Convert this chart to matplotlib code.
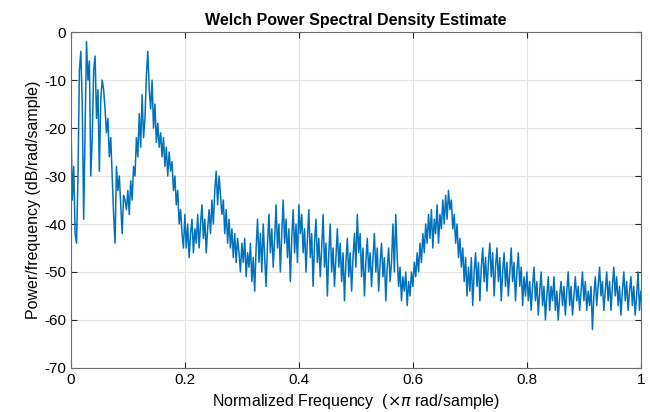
#Welch PSD estimate
import matplotlib.pyplot as plt
import numpy as np

plt.rcParams['font.family'] = ['Liberation Sans', 'DejaVu Sans']
plt.rcParams['axes.unicode_minus'] = False

# PSD in dB/rad/sample, 0 .. 0.2 (x pi rad/sample)
psd_low = [-18, -35, -28, -42, -44, -30, -8, -4, -15, -39,
           -20, -2, -10, -6, -30, -22, -8, -5, -18, -12,
           -29, -14, -10, -12, -16, -21, -18, -26, -22, -30,
           -38, -44, -28, -33, -30, -36, -42, -34, -35, -37,
           -33, -38, -31, -35, -28, -30, -22, -26, -17, -24,
           -13, -22, -18, -9, -4, -12, -16, -10, -20, -15,
           -23, -19, -24, -21, -26, -22, -28, -24, -30, -25,
           -29, -27, -33, -30, -36, -33, -40, -37, -42, -45]

# 0.2 .. 0.6
psd_mid = [-38, -45, -40, -47, -42, -39, -46, -41, -44, -38,
           -45, -40, -36, -43, -39, -46, -41, -37, -42, -35,
           -40, -33, -29, -36, -30, -34, -38, -35, -42, -37,
           -44, -39, -45, -41, -47, -42, -48, -43, -46, -50,
           -44, -48, -43, -51, -46, -49, -44, -52, -47, -54,
           -45, -39, -48, -42, -50, -40, -47, -53, -44, -38,
           -46, -41, -49, -43, -36, -45, -40, -50, -42, -35,
           -44, -39, -47, -41, -52, -43, -37, -46, -40, -48,
           -36, -42, -38, -46, -41, -50, -43, -37, -47, -42,
           -53, -44, -39, -48, -43, -51, -45, -38, -49, -44,
           -55, -46, -40, -50, -45, -53, -47, -41, -49, -44,
           -52, -46, -56, -48, -43, -51, -46, -54, -47, -42,
           -49, -38, -46, -42, -51, -45, -55, -48, -43, -50,
           -46, -53, -47, -42, -50, -45, -54, -48, -44, -51,
           -47, -56, -49, -45, -52, -48, -40, -50, -38, -47,
           -53, -49, -56, -51, -54, -50, -57, -52, -55, -50]

# 0.6 .. 1.0
psd_high = [-53, -48, -51, -46, -50, -44, -48, -42, -46, -40,
            -44, -38, -43, -37, -45, -39, -42, -36, -44, -38,
            -41, -35, -40, -34, -39, -33, -37, -35, -41, -38,
            -44, -40, -47, -43, -49, -45, -52, -47, -55, -49,
            -54, -47, -57, -50, -46, -53, -48, -56, -49, -45,
            -52, -47, -54, -48, -44, -51, -46, -55, -49, -45,
            -52, -47, -56, -50, -46, -53, -48, -55, -50, -45,
            -52, -48, -56, -50, -46, -53, -49, -57, -51, -55,
            -50, -56, -52, -58, -53, -49, -56, -52, -59, -54,
            -50, -57, -53, -60, -55, -51, -58, -53, -56, -51,
            -58, -54, -60, -55, -52, -57, -53, -59, -54, -50,
            -57, -53, -59, -55, -51, -56, -53, -58, -54, -50,
            -56, -52, -58, -54, -57, -53, -62, -55, -51, -57,
            -53, -49, -55, -52, -58, -54, -50, -56, -52, -58,
            -53, -49, -55, -51, -57, -53, -59, -54, -50, -56,
            -52, -58, -54, -51, -57, -53, -59, -55, -50, -58,
            -54]

psd = np.array(psd_low + psd_mid + psd_high, dtype=float)
w = np.linspace(0, 1, len(psd))

fig = plt.figure(figsize=(6.5, 4.12), dpi=100)
ax = fig.add_axes([0.109, 0.107, 0.877, 0.815])
ax.plot(w, psd, color='#0072BD', lw=1.1)

ax.set_xlim(0, 1)
ax.set_ylim(-70, 0)
ax.set_xticks([0, 0.2, 0.4, 0.6, 0.8, 1])
ax.set_xticklabels(['0', '0.2', '0.4', '0.6', '0.8', '1'])
ax.set_yticks(np.arange(-70, 1, 10))
ax.grid(True, color='#e3e3e3', lw=0.8)
ax.set_axisbelow(True)
ax.tick_params(direction='in', top=True, right=True, labelsize=11,
               color='#262626', length=4)
for s in ax.spines.values():
    s.set_color('#6b6b6b')
    s.set_linewidth(0.8)

ax.set_title('Welch Power Spectral Density Estimate', fontsize=11.5,
             fontweight='bold', pad=5)
ax.set_xlabel('Normalized Frequency  ($\\times\\pi$ rad/sample)', fontsize=11.5)
ax.set_ylabel('Power/frequency (dB/rad/sample)', fontsize=11.5, labelpad=2)

fig.savefig('out.png', dpi=100)
